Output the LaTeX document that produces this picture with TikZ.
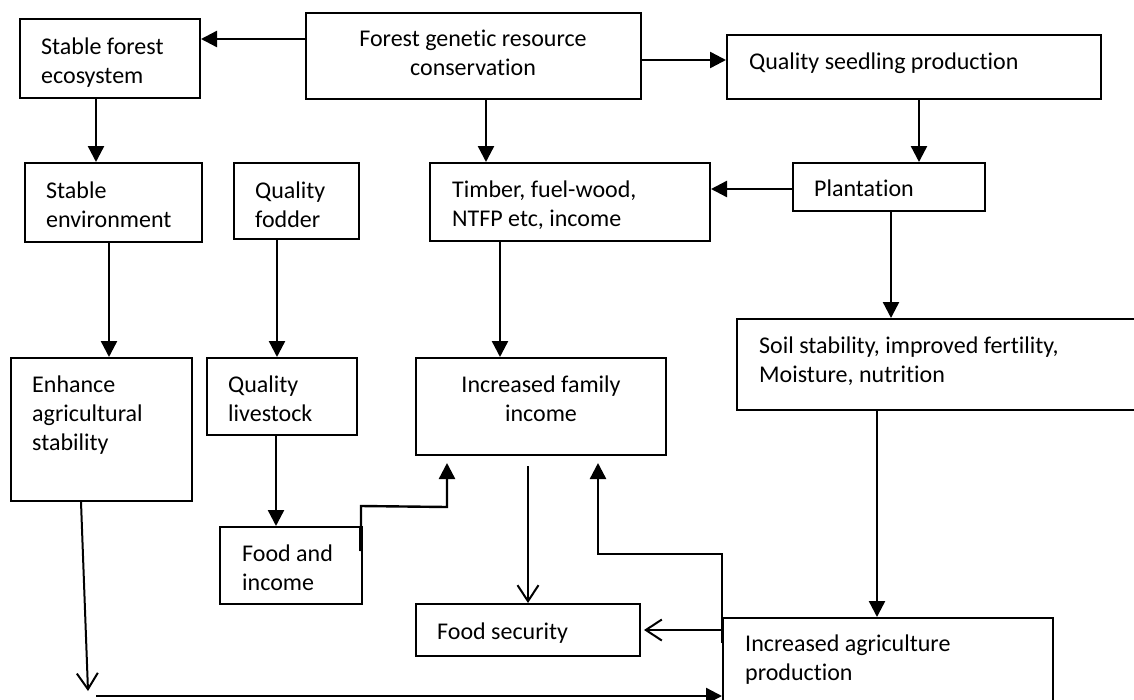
\documentclass[tikz,border=0pt]{standalone}
\usepackage{fontspec}
\setmainfont{Carlito}[Ligatures=NoCommon]
\usetikzlibrary{arrows.meta,fit,calc}
\begin{document}
\begin{tikzpicture}[x=1pt,y=-1pt,
  box/.style={draw, line width=2pt, inner sep=0pt},
  txt/.style={inner sep=0pt, anchor=north west, align=left, font=\fontsize{24}{29}\selectfont},
  ctxt/.style={txt, anchor=north, align=center},
  arr/.style={line width=2.4pt, -{Triangle[length=16pt,width=16pt]}},
  oarr/.style={line width=2pt, -{Straight Barb[length=16pt,width=21pt]}}
]
\useasboundingbox (0,0) rectangle (1134,699);
% boxes
\node[box, fit={(20,19) (200,98)}] (sfe) {};
\node[box, fit={(306,13) (641,99)}] (fgr) {};
\node[box, fit={(727,35) (1101,99)}] (qsp) {};
\node[box, fit={(25,163) (202,242)}] (sen) {};
\node[box, fit={(234,163) (359,239)}] (fod) {};
\node[box, fit={(430,163) (710,241)}] (tim) {};
\node[box, fit={(793,163) (985,211)}] (pla) {};
\node[box, fit={(737,319) (1145,410)}] (soil) {};
\node[box, fit={(11,358) (192,501)}] (enh) {};
\node[box, fit={(207,358) (357,435)}] (liv) {};
\node[box, fit={(416,358) (666,455)}] (fam) {};
\node[box, fit={(220,527) (362,604)}] (fai) {};
\node[box, fit={(416,604) (640,656)}] (fs) {};
\node[box, fit={(723,618) (1053,715)}] (agr) {};
% texts
\node[txt] (tsfe) at (41,33.7) {\strut Stable forest\\ecosystem};
\node[ctxt] (tfgr) at (473,25.7) {\strut Forest genetic resource\\conservation};
\node[txt] (tqsp) at (749,48.7) {\strut Quality seedling production};
\node[txt] (tsen) at (46,177.7) {\strut Stable\\environment};
\node[txt] (tfod) at (255,177.7) {\strut Quality\\fodder};
\node[txt] (ttim) at (452,176.7) {\strut Timber, fuel-wood,\\NTFP etc, income};
\node[txt] (tpla) at (814,175.7) {\strut Plantation};
\node[txt] (tsoil) at (759,332.7) {\strut Soil stability, improved fertility,\\Moisture, nutrition};
\node[ctxt] (tfam) at (541,371.7) {\strut Increased family\\income};
\node[txt] (tenh) at (32,371.7) {\strut Enhance\\agricultural\\stability};
\node[txt] (tliv) at (228,371.7) {\strut Quality\\livestock};
\node[txt] (tfai) at (242,540.7) {\strut Food and\\income};
\node[txt] (tfs) at (437,618.7) {\strut Food security};
\node[txt] (tagr) at (745,630.7) {\strut Increased agriculture\\production};
% connectors
\draw[arr] (fgr.west |- 0,39) -- (sfe.east |- 0,39);
\draw[arr] (fgr.east |- 0,60) -- (qsp.west |- 0,60);
\draw[arr] (fgr.south -| 486,0) -- (tim.north -| 486,0);
\draw[arr] (qsp.south -| 919,0) -- (pla.north -| 919,0);
\draw[arr] (pla.west |- 0,189) -- (tim.east |- 0,189);
\draw[arr] (sfe.south -| 96,0) -- (sen.north -| 96,0);
\draw[arr] (sen.south -| 109,0) -- (enh.north -| 109,0);
\draw[arr] (fod.south -| 277,0) -- (liv.north -| 277,0);
\draw[arr] (liv.south -| 276,0) -- (fai.north -| 276,0);
\draw[arr] (tim.south -| 500,0) -- (fam.north -| 500,0);
\draw[arr] (pla.south -| 891,0) -- (soil.north -| 891,0);
\draw[arr] (soil.south -| 877,0) -- (agr.north -| 877,0);
\draw[oarr] ($(fam.south -| 528,0)+(0,10)$) -- (fs.north -| 528,0);
\draw[arr] (agr.west |- 0,643) -- (agr.west |- 0,554) -- (598,554) -- ($(fam.south -| 598,0)+(0,7)$);
\draw[oarr] (agr.west |- 0,630) -- ($(fs.east |- 0,630)+(3,0)$);
\coordinate (bl) at (88,691);
\draw[oarr] (enh.south -| 81,0) -- (bl);
\coordinate (bs) at (96,696);
\draw[arr] (bs) -- (agr.west |- 0,696);
\draw[line width=4pt] ($(fai.north east)+(-2,25)$) -- ($(fai.north east)+(-2,0)$);
\draw[arr] ($(fai.north east)+(-2,25)$) -- ($(fai.north east)+(-2,-20)$) -- (447,507) -- ($(fam.south -| 447,0)+(0,7)$);
\end{tikzpicture}
\end{document}
